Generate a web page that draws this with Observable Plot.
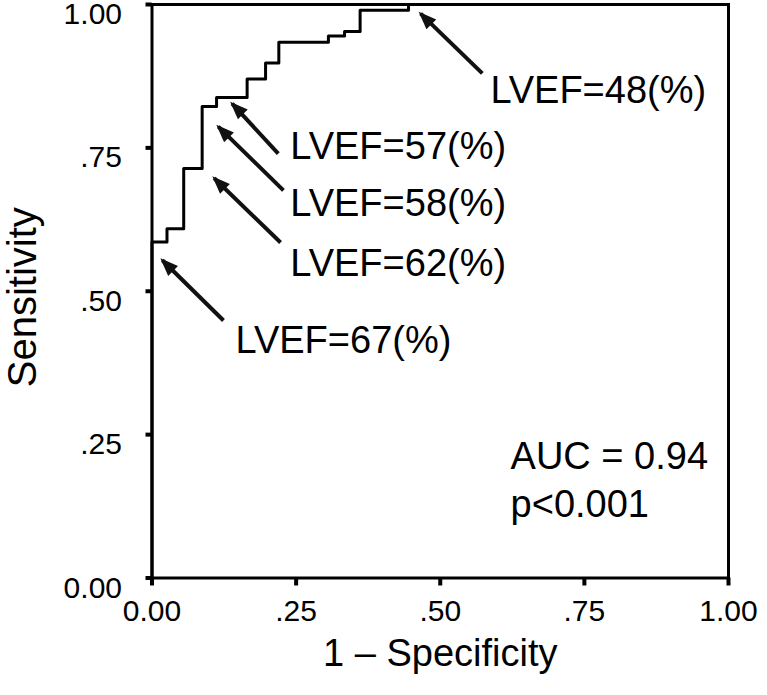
<!DOCTYPE html>
<html><head><meta charset="utf-8">
<script src="https://cdn.jsdelivr.net/npm/d3@7"></script>
<script src="https://cdn.jsdelivr.net/npm/@observablehq/plot@0.6"></script>
<style>
body{margin:0;background:#fff;}
</style></head><body><div id="chart"></div>
<script>
// ROC curve corner points (1 - specificity, sensitivity)
const fpr = [0, 0, 0.026, 0.055, 0.087, 0.112, 0.165, 0.197, 0.220, 0.306, 0.334, 0.361, 0.445, 1.0];
const tpr = [0, 0.586, 0.609, 0.714, 0.822, 0.838, 0.870, 0.898, 0.934, 0.945, 0.953, 0.990, 1.0, 1.0];

const tickValues = [0, 0.25, 0.5, 0.75, 1];
const tickLabels = ["0.00", ".25", ".50", ".75", "1.00"];

// cut-off annotations
const cutLabels = ["LVEF=48(%)", "LVEF=57(%)", "LVEF=58(%)", "LVEF=62(%)", "LVEF=67(%)"];
const labelX = [0.587, 0.240, 0.240, 0.240, 0.145];
const labelY = [0.850, 0.752, 0.653, 0.548, 0.414];
const tipX  = [0.466, 0.139, 0.115, 0.108, 0.018];
const tipY  = [0.984, 0.827, 0.787, 0.697, 0.554];
const tailX = [0.573, 0.219, 0.228, 0.223, 0.124];
const tailY = [0.880, 0.740, 0.676, 0.585, 0.449];

const statLines = ["AUC = 0.94", "p<0.001"];
const statX = [0.622, 0.622];
const statY = [0.212, 0.128];

const xTitle = "1 \u2013 Specificity";
const yTitle = "Sensitivity";

const roc = fpr.map((x, i) => ({x, y: tpr[i]}));
const notes = cutLabels.map((t, i) => ({t, lx: labelX[i], ly: labelY[i], x1: tailX[i], y1: tailY[i], x2: tipX[i], y2: tipY[i]}));
const stats = statLines.map((t, i) => ({t, x: statX[i], y: statY[i]}));

const arrowHead = {
  draw(ctx) {
    ctx.moveTo(-2, -2);
    ctx.lineTo(5.8, 15.6);
    ctx.lineTo(15.6, 5.8);
    ctx.closePath();
  }
};

const fmt = d => tickLabels[tickValues.indexOf(d)];

const chart = Plot.plot({
  width: 767,
  height: 695,
  marginLeft: 151.5,
  marginRight: 39,
  marginTop: 4,
  marginBottom: 117.5,
  style: {fontFamily: "'Liberation Sans', Arial, sans-serif", color: "#000", background: "#fff"},
  x: {domain: [0, 1]},
  y: {domain: [0, 1]},
  marks: [
    Plot.axisX(tickValues, {tickFormat: fmt, tickSize: 8, tickPadding: 14, fontSize: 30, strokeWidth: 4, label: null}),
    Plot.axisY(tickValues, {tickFormat: () => "", tickSize: 6, strokeWidth: 4, label: null}),
    Plot.axisY(tickValues, {tickFormat: fmt, tickSize: 0, tickPadding: 30, fontSize: 30, dy: 10, label: null}),
    Plot.line(roc, {x: "x", y: "y", curve: "step-after", stroke: "#000", strokeWidth: 3}),
    Plot.frame({stroke: "#000", strokeWidth: 3}),
    Plot.link(notes, {x1: "x1", y1: "y1", x2: "x2", y2: "y2", stroke: "#111", strokeWidth: 4}),
    Plot.dot(notes, {x: "x2", y: "y2", symbol: arrowHead, fill: "#111", stroke: null}),
    Plot.text(notes, {x: "lx", y: "ly", text: "t", textAnchor: "start", fontSize: 38, fill: "#000"}),
    Plot.text(stats, {x: "x", y: "y", text: "t", textAnchor: "start", fontSize: 38, fill: "#000"}),
    Plot.text([xTitle], {frameAnchor: "bottom", dy: 88, fontSize: 38, fill: "#000"}),
    Plot.text([yTitle], {frameAnchor: "left", textAnchor: "middle", dx: -129, dy: 6, rotate: -90, fontSize: 40, fill: "#000"})
  ]
});
document.getElementById("chart").appendChild(chart);
</script>
</body></html>
